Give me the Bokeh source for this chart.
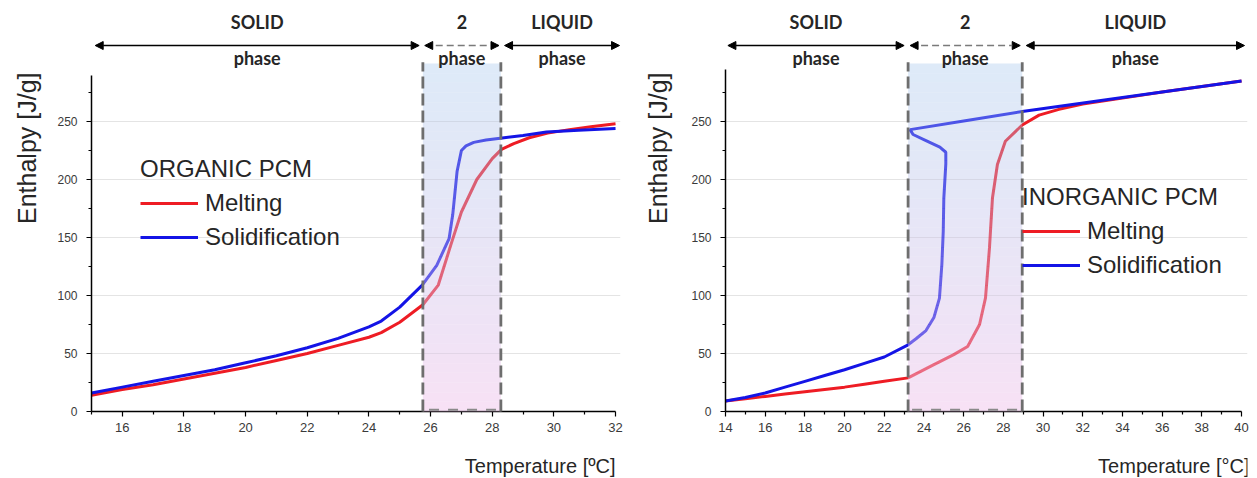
from bokeh.plotting import figure
from bokeh.models import (FixedTicker, Legend, LegendItem, Arrow, NormalHead, Label, Title)
from bokeh.layouts import row, column
from bokeh.embed import file_html
from bokeh.resources import INLINE

# ---------------- data ----------------
ORG_MELT_T = [15, 16, 17, 18, 19, 20, 21, 22, 23, 24, 24.4, 25, 25.75, 26.25, 26.65, 27.0, 27.5, 28.0, 28.3, 28.7, 29.2, 29.8, 30.5, 31.2, 32]
ORG_MELT_H = [14, 19, 23, 28, 33, 38, 44, 50, 57, 64, 68, 77, 92, 109, 143, 172, 200, 218, 226, 231, 236, 240, 243, 245.5, 248]
ORG_SOLID_T = [15, 16, 17, 18, 19, 20, 21, 22, 23, 24, 24.4, 25, 25.73, 26.2, 26.6, 26.72, 26.86, 27.0, 27.15, 27.4, 27.8, 28.26, 29.0, 29.76, 30.8, 32]
ORG_SOLID_H = [16, 21, 26, 31, 36, 42, 48, 55, 63, 73, 78, 90, 109, 126, 149, 170, 207, 225, 229, 232, 234, 235.6, 238, 241, 242.5, 244]

INORG_MELT_T = [14, 15, 16, 17, 18, 19, 20, 21, 22, 23.2, 24.45, 25.5, 26.2, 26.8, 27.1, 27.3, 27.45, 27.7, 28.1, 28.95, 29.8, 30.8, 32, 36, 40]
INORG_MELT_H = [9, 11, 13, 15, 17, 19, 21, 23.5, 26, 29, 40, 49, 56, 75, 98, 141, 184, 213, 233, 247, 255.5, 260.5, 265, 275.5, 285]
INORG_SOLID_T = [14, 15, 16, 17, 18, 19, 20, 21, 22, 23.2, 23.6, 24.1, 24.5, 24.78, 24.9, 24.97, 25.0, 25.1, 25.1, 24.8, 24.1, 23.45, 23.3, 26.0, 28.95, 34, 40]
INORG_SOLID_H = [9, 12, 16, 21, 26, 31, 36, 41.5, 47, 57.5, 62.7, 69.8, 81, 97.7, 126.5, 155, 184, 213.5, 223.5, 227.9, 233.6, 238.8, 243, 250.5, 258.6, 270.7, 285]

ORG_PHASE = [25.75, 28.28]
INORG_PHASE = [23.2, 28.95]

ORG_X_TICKS = [16, 18, 20, 22, 24, 26, 28, 30, 32]
INORG_X_TICKS = [14, 16, 18, 20, 22, 24, 26, 28, 30, 32, 34, 36, 38, 40]
Y_TICKS = [0, 50, 100, 150, 200, 250]

PHASE_NAMES = ["SOLID", "2", "LIQUID"]
SERIES_NAMES = ["Melting", "Solidification"]

RED = "#ee1c24"
BLUE = "#1414e6"
TXT = "#262626"
FONT = "Liberation Sans"


def lerp(a, b, t):
    return a + (b - a) * t


def make_panel(title, melt_T, melt_H, sol_T, sol_H, phase, x_ticks, x0, x1, y_top_axis,
               width, border_left, border_right, legend_loc, xlabel, arrow_gap, ylab_standoff,
               arrow_tip, xlab_right):
    p = figure(width=width, height=448, x_range=(x0, x1), y_range=(0, 345.7),
               min_border_left=border_left, min_border_right=border_right,
               min_border_top=10, min_border_bottom=37,
               output_backend="svg", toolbar_location=None)
    p.outline_line_color = None
    p.xgrid.visible = False
    p.ygrid.grid_line_color = "#e4e4e4"
    p.ygrid.grid_line_width = 1

    # axes
    xmin = [t + 1 for t in x_ticks[:-1]]
    if x_ticks[0] - 1 >= x0:
        xmin = [x_ticks[0] - 1] + xmin
    p.xaxis.ticker = FixedTicker(ticks=x_ticks, minor_ticks=xmin)
    p.yaxis.ticker = FixedTicker(ticks=Y_TICKS, minor_ticks=[25, 75, 125, 175, 225, 275])
    p.xaxis.bounds = (x0, x_ticks[-1])
    p.yaxis.bounds = (0, y_top_axis)
    for ax in (p.xaxis[0], p.yaxis[0]):
        ax.axis_line_color = "black"
        ax.axis_line_width = 1.5
        ax.major_tick_in = 0
        ax.major_tick_out = 5
        ax.minor_tick_in = 0
        ax.minor_tick_out = 3
        ax.major_tick_line_width = 1.2
        ax.minor_tick_line_width = 1.2
        ax.major_label_text_font = FONT
        ax.major_label_text_color = "#3a3a3a"
    p.xaxis.major_label_text_font_size = "13px"
    p.yaxis.major_label_text_font_size = "12px"
    p.xaxis.major_label_standoff = 6
    p.yaxis.major_label_standoff = 9

    # y axis title as a side title (placed toward the top)
    p.add_layout(Title(text="Enthalpy [J/g]", align="right", offset=62, vertical_align="top",
                       standoff=ylab_standoff, text_font=FONT, text_font_size="25px",
                       text_font_style="normal", text_color=TXT), "left")

    # curves
    r_red = p.line(melt_T, melt_H, line_color=RED, line_width=3)
    r_blue = p.line(sol_T, sol_H, line_color=BLUE, line_width=3)

    # two-phase shaded band (gradient blue top -> pink bottom)
    t1, t2 = phase
    n = 36
    top_c = (160, 195, 235)
    bot_c = (240, 195, 235)
    lefts, rights, bottoms, tops, colors, alphas = [], [], [], [], [], []
    band_top = 300.0
    for i in range(n):
        t = (i + 0.5) / n
        c = tuple(int(round(lerp(bot_c[k], top_c[k], t))) for k in range(3))
        lefts.append(t1)
        rights.append(t2)
        bottoms.append(band_top * i / n)
        tops.append(band_top * (i + 1) / n)
        colors.append("#%02x%02x%02x" % c)
        alphas.append(lerp(0.5, 0.35, t))
    q = p.quad(left=lefts, right=rights, bottom=bottoms, top=tops,
               fill_color=colors, fill_alpha=alphas, line_color=None)
    q.level = "annotation"

    # dashed phase boundaries
    for tb in phase:
        s = p.segment(x0=[tb], y0=[0], x1=[tb], y1=[301], line_color="#6e6e6e",
                      line_width=2.8, line_dash="12 5")
        s.level = "annotation"
    sb = p.segment(x0=[t1 + 0.2], y0=[1.5], x1=[t2 - 0.1], y1=[1.5], line_color="#8a8a8a",
                   line_width=2.2, line_dash="10 9")
    sb.level = "annotation"

    # phase arrows + labels
    spans = [(x0 + 0.12, t1 - arrow_gap), (t1 + arrow_gap * 0.5, t2 - arrow_gap * 0.5),
             (t2 + arrow_gap, arrow_tip)]
    for k, (a, b) in enumerate(spans):
        mid = k == 1
        p.add_layout(Arrow(
            start=NormalHead(size=8, fill_color="black", line_color="black"),
            end=NormalHead(size=8, fill_color="black", line_color="black"),
            x_start=a, y_start=315.5, x_end=b, y_end=315.5,
            line_color="#7a7a7a" if mid else "black", line_width=1.6,
            line_dash="7 4" if mid else "solid"))
        cx = (a + b) / 2
        p.add_layout(Label(x=cx, y=336, text=PHASE_NAMES[k], text_align="center",
                           text_baseline="middle", text_font="Lato", text_font_style="bold",
                           text_font_size="18px", text_color=TXT))
        p.add_layout(Label(x=cx, y=305, text="phase", text_align="center",
                           text_baseline="middle", text_font="Lato", text_font_style="bold",
                           text_font_size="18px", text_color=TXT))

    # legend
    leg = Legend(items=[LegendItem(label=SERIES_NAMES[0], renderers=[r_red]),
                        LegendItem(label=SERIES_NAMES[1], renderers=[r_blue])],
                 title=title, location=legend_loc)
    leg.title_text_font = FONT
    leg.title_text_font_size = "24px"
    leg.title_text_font_style = "normal"
    leg.title_text_color = TXT
    leg.title_standoff = 6
    leg.label_text_font = FONT
    leg.label_text_font_size = "24px"
    leg.label_text_color = TXT
    leg.glyph_width = 58
    leg.glyph_height = 26
    leg.label_height = 26
    leg.label_standoff = 7
    leg.spacing = 6
    leg.padding = 0
    leg.margin = 0
    leg.border_line_alpha = 0
    leg.background_fill_alpha = 0
    p.add_layout(leg)

    # x axis title strip (right aligned under the end of the axis)
    lab = figure(width=width, height=30, x_range=p.x_range, y_range=(0, 30),
                 min_border_left=border_left, min_border_right=border_right,
                 min_border_top=0, min_border_bottom=0,
                 output_backend="svg", toolbar_location=None)
    lab.axis.visible = False
    lab.grid.visible = False
    lab.outline_line_color = None
    lab.add_layout(Label(x=xlab_right, y=13, x_units="screen", y_units="screen",
                         text=xlabel, text_align="right", text_baseline="middle",
                         text_font=FONT, text_font_size="20px", text_color=TXT))
    return column(p, lab)


# left: frame 88..620 px (15..32.16), right: frame 721..1247 px (14..40.3)
c1 = make_panel("ORGANIC PCM", ORG_MELT_T, ORG_MELT_H, ORG_SOLID_T, ORG_SOLID_H, ORG_PHASE,
                ORG_X_TICKS, 15, 15 + 532 / 31.0, 290, 628, 88, 8, (49, 160),
                "Temperature [ºC]", 0.12, 24, 32.13, 524)
c2 = make_panel("INORGANIC PCM", INORG_MELT_T, INORG_MELT_H, INORG_SOLID_T, INORG_SOLID_H, INORG_PHASE,
                INORG_X_TICKS, 14, 14 + 526 / 20.0, 295, 621, 93, 2, (297, 132),
                "Temperature [°C]", 0.2, 30, 40.15, 524)

layout = row(c1, c2)
open("out.html", "w").write(file_html(layout, INLINE))
